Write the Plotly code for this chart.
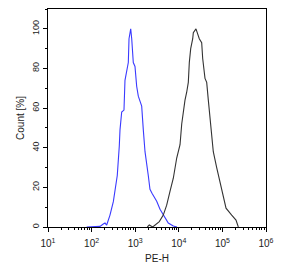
import plotly.graph_objects as go

# PE-H values (linear units) and Count [%]
blue_pe = [77, 156, 185, 203, 222, 264, 315, 344, 388, 432, 448, 490, 553, 583, 695, 721,
           789, 832, 904, 989, 1081, 1178, 1409, 1535, 1679, 1995, 2183, 2427, 3112, 3707,
           4406, 4819, 5741, 7482, 9100]
blue_cnt = [0, 0.3, 1.5, 2, 1, 6, 12.8, 18, 26, 41, 49, 58, 59, 74, 83, 95,
            100, 95, 83, 81, 71, 66, 61, 49, 38, 26, 19, 17, 13, 9,
            6, 5, 2, 0.5, 0]

black_pe = [1897, 2104, 2518, 2844, 3573, 4406, 5272, 6281, 7482, 8954, 10666, 11668,
            12677, 13868, 15171, 16520, 17418, 18750, 20845, 21528, 24774, 26546, 29512,
            33497, 35318, 39902, 43652, 47534, 51999, 54828, 61802, 73961, 88105, 104954,
            121059, 163305, 205116, 231739]
black_cnt = [0, 1, 0, 1, 2.7, 6, 11, 18, 24.6, 34.8, 41.5, 52,
             59, 64, 68, 73, 83, 90, 95, 98, 100, 98, 95,
             93, 85, 75, 73, 64, 56, 49, 38, 30, 23, 16,
             9.5, 6, 3.5, 0]

x_tickvals = [10, 100, 1000, 10000, 100000, 1000000]
x_ticktext = ["10<sup>1</sup>", "10<sup>2</sup>", "10<sup>3</sup>", "10<sup>4</sup>",
              "10<sup>5</sup>", "10<sup>6</sup>"]
y_tickvals = [0, 20, 40, 60, 80, 100]

fig = go.Figure()
fig.add_trace(go.Scatter(x=blue_pe, y=blue_cnt, mode="lines",
                         line=dict(color="#3a3aff", width=1.1), showlegend=False))
fig.add_trace(go.Scatter(x=black_pe, y=black_cnt, mode="lines",
                         line=dict(color="#333333", width=1.1), showlegend=False))

font = dict(family="Liberation Sans, Arial, sans-serif", size=10, color="#222222")
fig.update_layout(
    width=293, height=268,
    margin=dict(l=48, r=27, t=9, b=41),
    paper_bgcolor="white", plot_bgcolor="white",
    font=font,
    xaxis=dict(type="log", range=[1, 6], tickvals=x_tickvals, ticktext=x_ticktext,
               automargin=False,
               ticks="outside", ticklen=4, tickcolor="#000", showgrid=False,
               zeroline=False, showline=True, linecolor="#000", linewidth=1, mirror=True,
               minor=dict(ticks="outside", ticklen=2, dtick="D1", tickcolor="#000", showgrid=False),
               ticklabelstandoff=3,
               title=dict(text="PE-H", font=dict(size=10), standoff=6),
               tickfont=dict(size=10)),
    yaxis=dict(range=[0, 110], tickvals=y_tickvals, ticks="outside", ticklen=4,
               automargin=False,
               tickcolor="#000", tickangle=-90, showgrid=False, zeroline=False,
               showline=True, linecolor="#000", linewidth=1, mirror=True,
               minor=dict(ticks="outside", ticklen=2, dtick=10, tick0=0, tickcolor="#000",
                          showgrid=False),
               title=dict(text="Count [%]", font=dict(size=10), standoff=4),
               tickfont=dict(size=9)),
)
fig.write_html("out.html")
